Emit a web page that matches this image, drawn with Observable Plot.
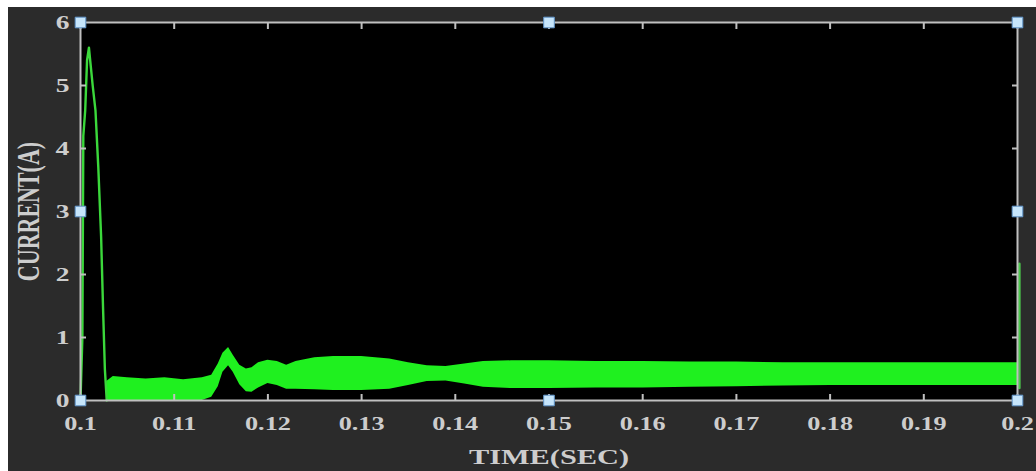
<!DOCTYPE html>
<html><head><meta charset="utf-8">
<script src="https://cdn.jsdelivr.net/npm/d3@7"></script>
<script src="https://cdn.jsdelivr.net/npm/@observablehq/plot@0.6"></script>
<style>
html,body{margin:0;padding:0;background:#fff;}
#chart svg{display:block;background:#2b2b2b;box-shadow:inset 8px 7px 0 0 #fff;}
</style></head><body><div id="chart"></div>
<script>
// tick values and their labels
const xTicks = [0.1, 0.11, 0.12, 0.13, 0.14, 0.15, 0.16, 0.17, 0.18, 0.19, 0.2];
const xTickLabels = ["0.1", "0.11", "0.12", "0.13", "0.14", "0.15", "0.16", "0.17", "0.18", "0.19", "0.2"];
const yTicks = [0, 1, 2, 3, 4, 5, 6];
const yTickLabels = ["0", "1", "2", "3", "4", "5", "6"];

// initial current spike (time s, current A)
const spikeT = [0.1000, 0.1002, 0.1003, 0.1005, 0.1007, 0.1009, 0.1011, 0.1013, 0.1016, 0.1019, 0.1022, 0.1024, 0.1026, 0.1028];
const spikeI = [0.0, 1.0, 4.2, 4.6, 5.4, 5.6, 5.3, 5.0, 4.6, 3.7, 2.6, 1.5, 0.5, 0.0];

// ripple band envelope (time, lower, upper)
const bandT  = [0.1028, 0.1035, 0.105, 0.107, 0.109, 0.111, 0.113, 0.1140, 0.1147, 0.1152, 0.1158, 0.1163, 0.1170, 0.1177, 0.1183, 0.119, 0.120, 0.121, 0.122, 0.123, 0.125, 0.127, 0.130, 0.133, 0.135, 0.137, 0.139, 0.141, 0.143, 0.146, 0.150, 0.155, 0.160, 0.165, 0.170, 0.175, 0.180, 0.185, 0.190, 0.195, 0.2000];
const bandHi = [0.30, 0.38, 0.36, 0.34, 0.36, 0.33, 0.36, 0.40, 0.58, 0.75, 0.84, 0.72, 0.56, 0.50, 0.52, 0.60, 0.64, 0.62, 0.56, 0.62, 0.68, 0.70, 0.70, 0.66, 0.60, 0.55, 0.54, 0.58, 0.62, 0.63, 0.63, 0.62, 0.62, 0.61, 0.61, 0.60, 0.60, 0.60, 0.60, 0.60, 0.60];
const bandLo = [0.00, 0.00, 0.00, 0.00, 0.00, 0.00, 0.00, 0.05, 0.22, 0.45, 0.55, 0.45, 0.25, 0.14, 0.13, 0.20, 0.27, 0.24, 0.18, 0.18, 0.17, 0.16, 0.16, 0.18, 0.24, 0.30, 0.31, 0.26, 0.21, 0.19, 0.19, 0.20, 0.20, 0.21, 0.22, 0.23, 0.24, 0.24, 0.24, 0.24, 0.24];

// final jump at the end of the record
const endT = [0.2002, 0.2002];
const endI = [0.20, 2.17];

// selection handles
const handleT = [0.1, 0.15, 0.2, 0.1, 0.2, 0.1, 0.15, 0.2];
const handleI = [6, 6, 6, 3, 3, 0, 0, 0];

const spike = spikeT.map((t, k) => ({t, i: spikeI[k]}));
const band = bandT.map((t, k) => ({t, lo: bandLo[k], hi: bandHi[k]}));
const endLine = endT.map((t, k) => ({t, i: endI[k]}));
const handles = handleT.map((t, k) => ({t, i: handleI[k]}));

const axisColor = "#c0c0c0";
const textColor = "#cdcdcd";
const xFmt = d => xTickLabels[xTicks.findIndex(v => Math.abs(v - d) < 1e-9)];
const yFmt = d => yTickLabels[yTicks.indexOf(d)];

const plot = Plot.plot({
  width: 1036, height: 471,
  marginLeft: 80, marginRight: 19, marginTop: 22, marginBottom: 71,
  style: {color: textColor, fontFamily: "'Liberation Serif', 'Times New Roman', serif", fontWeight: "bold", fontSize: "19px", overflow: "visible"},
  x: {domain: [0.1, 0.2]},
  y: {domain: [0, 6]},
  marks: [
    Plot.frame({fill: "black"}),
    Plot.areaY(band, {x: "t", y1: "lo", y2: "hi", fill: "#1ff01f"}),
    Plot.line(spike, {x: "t", y: "i", stroke: "#3bd83b", strokeWidth: 2.4}),
    Plot.line(endLine, {x: "t", y: "i", stroke: "#4cc84c", strokeWidth: 2.5}),
    Plot.frame({stroke: axisColor, strokeWidth: 2}),
    Plot.axisX(xTicks, {anchor: "bottom", tickSize: -6, fill: "none", stroke: axisColor, strokeWidth: 2, label: null}),
    Plot.axisX(xTicks, {anchor: "top", tickSize: -6, fill: "none", stroke: axisColor, strokeWidth: 2, label: null}),
    Plot.axisY(yTicks, {anchor: "left", tickSize: -6, fill: "none", stroke: axisColor, strokeWidth: 2, label: null}),
    Plot.axisY(yTicks, {anchor: "right", tickSize: -6, fill: "none", stroke: axisColor, strokeWidth: 2, label: null}),
    Plot.axisX(xTicks, {anchor: "bottom", tickSize: 0, tickPadding: 16, fill: textColor, fontSize: 19, tickFormat: xFmt,
      label: "TIME(SEC)", labelAnchor: "center", labelOffset: 63, labelArrow: "none"}),
    Plot.axisY(yTicks, {anchor: "left", tickSize: 0, tickPadding: 11, fill: textColor, fontSize: 19, tickFormat: yFmt,
      label: "CURRENT(A)", labelAnchor: "center", labelOffset: 60, labelArrow: "none"}),
    Plot.dot(handles, {x: "t", y: "i", symbol: "square", r: 6, fill: "#c6e5fb", stroke: "#5f93c8", strokeWidth: 1})
  ]
});
document.getElementById("chart").appendChild(plot);

// horizontal stretch of the glyphs, as in the reference image
function stretch(sel, mode, s) {
  plot.querySelectorAll(sel).forEach(t => {
    const bb = t.getBBox();
    const base = t.getAttribute("transform") || "";
    if (mode === "center") {
      const cx = bb.x + bb.width / 2;
      t.setAttribute("transform", `${base} translate(${cx},0) scale(${s},1) translate(${-cx},0)`);
    } else if (mode === "end") {
      const cx = bb.x + bb.width;
      t.setAttribute("transform", `${base} translate(${cx},0) scale(${s},1) translate(${-cx},0)`);
    } else if (mode === "rot") {
      const cy = bb.y + bb.height / 2;
      t.setAttribute("transform", `${base} translate(0,${cy}) scale(1,${s}) translate(0,${-cy})`);
    }
  });
}
stretch('g[aria-label="x-axis tick label"] text', "center", 1.38);
stretch('g[aria-label="y-axis tick label"] text', "end", 1.45);
plot.querySelectorAll('g[aria-label="x-axis label"] text').forEach(t => t.style.fontSize = "22px");
plot.querySelectorAll('g[aria-label="y-axis label"] text').forEach(t => t.style.fontSize = "22px");
stretch('g[aria-label="x-axis label"] text', "center", 1.38);
stretch('g[aria-label="y-axis label"] text', "rot", 1.4);
</script></body></html>
